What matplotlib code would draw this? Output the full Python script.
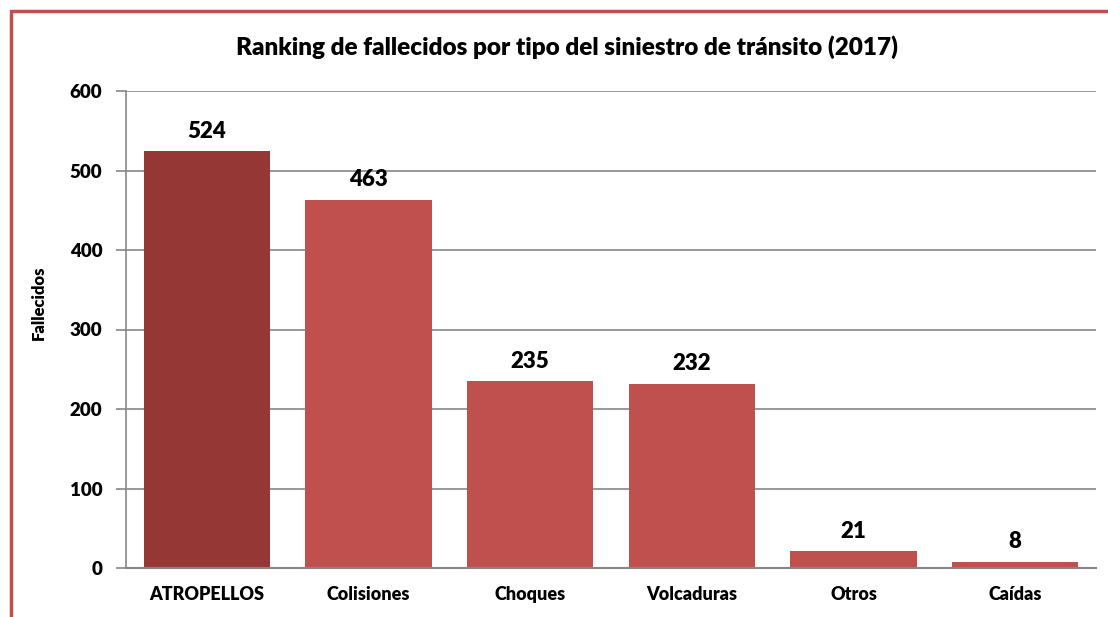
import matplotlib
matplotlib.use("Agg")
import matplotlib.pyplot as plt
from matplotlib.patches import Rectangle

categories = ["ATROPELLOS", "Colisiones", "Choques", "Volcaduras", "Otros", "Caídas"]
values = [524, 463, 235, 232, 21, 8]
yticks = [0, 100, 200, 300, 400, 500, 600]
colors = ["#953735", "#C0504D", "#C0504D", "#C0504D", "#C0504D", "#C0504D"]

W = 'heavy'
plt.rcParams['font.family'] = ['Lato', 'DejaVu Sans']
plt.rcParams['font.weight'] = W

fig = plt.figure(figsize=(11.08, 6.17), dpi=100)
ax = fig.add_axes([126/1108, 1-568/617, (1096-126)/1108, (568-91)/617])

x = range(len(categories))
bars = ax.bar(x, values, width=0.78, color=colors, zorder=3)
for xi, v in zip(x, values):
    ax.text(xi, v + 12, str(v), ha='center', va='bottom', fontsize=16, fontweight=W, color='black')

ax.set_xlim(-0.5, len(categories) - 0.5)
ax.set_ylim(0, 600)
ax.set_yticks(yticks)
ax.set_yticklabels([str(t) for t in yticks], fontsize=13.5, fontweight=W)
ax.set_xticks(list(x))
ax.set_xticklabels(categories, fontsize=13, fontweight=W)
ax.tick_params(axis='x', length=0, pad=13)
ax.tick_params(axis='y', length=7, color='#868686', width=1.2, pad=10)

ax.grid(axis='y', color='#868686', linewidth=1.2, zorder=0)
for s in ['top', 'right']:
    ax.spines[s].set_visible(False)
ax.spines['left'].set_color('#868686')
ax.spines['bottom'].set_color('#868686')
ax.spines['left'].set_linewidth(1.2)
ax.spines['bottom'].set_linewidth(1.5)
ax.spines['bottom'].set_zorder(4)

fig.text(39/1108, 1-303/617, "Fallecidos", rotation=90, ha='center', va='center',
         fontsize=12, fontweight=W)

fig.text(567/1108, 1-47/617, "Ranking de fallecidos por tipo del siniestro de tránsito (2017)",
         ha='center', va='center', fontsize=17.5, fontweight=W)

fig.patches.append(Rectangle((11/1108, -0.1), 1.2, 1.1 - 11/617, transform=fig.transFigure,
                             fill=False, edgecolor='#C0504D', linewidth=2.5))

fig.savefig("out.png", dpi=100)
